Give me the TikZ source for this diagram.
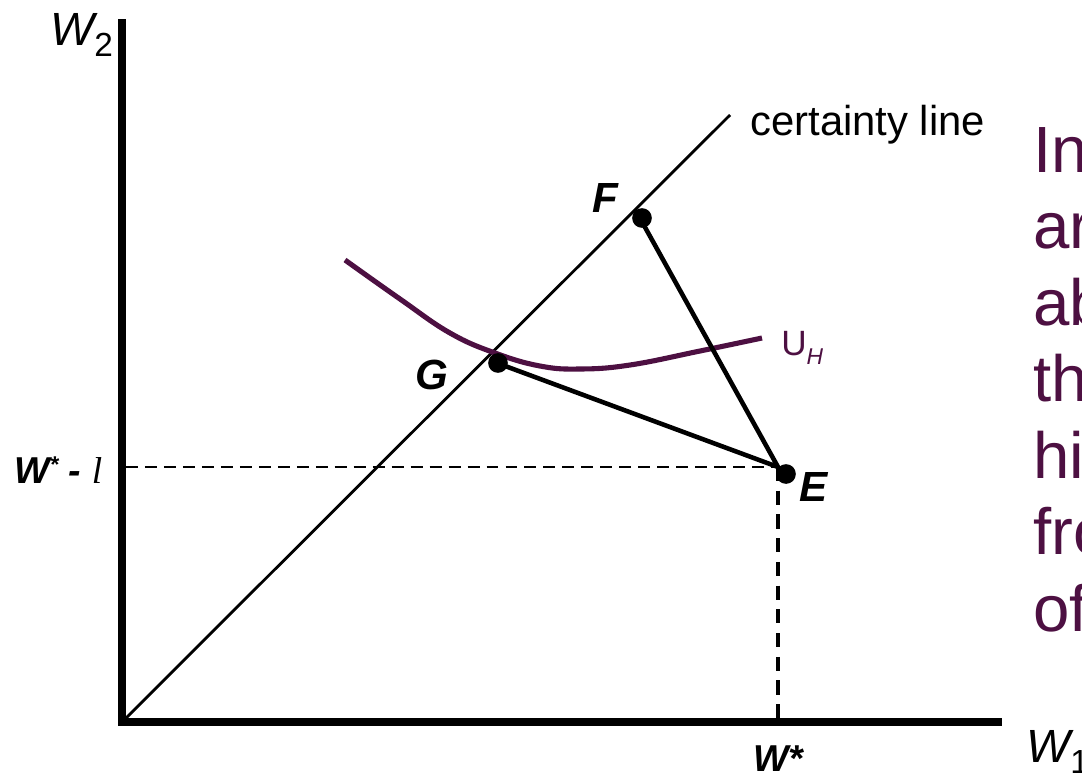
\documentclass[tikz,border=0pt]{standalone}
\usepackage{fontspec}
\setmainfont{Liberation Sans}
\newfontfamily\timesfont{Liberation Serif}
\definecolor{ecpurple}{RGB}{77,16,66}
\usetikzlibrary{positioning}

\begin{document}
\begin{tikzpicture}[x=0.02cm,y=-0.02cm,
  axisline/.style={line width=4.5pt},
  certline/.style={line width=1.6pt},
  budget/.style={line width=2.6pt},
  hguide/.style={line width=1.1pt,dash pattern=on 6.8pt off 4pt},
  vguide/.style={line width=2.2pt,dash pattern=on 8pt off 5.5pt},
  indiff/.style={line width=2.9pt,draw=ecpurple},
  dotpt/.style={circle,fill=black,inner sep=0pt,minimum size=11.2pt},
  axlabel/.style={anchor=base west,inner sep=0pt,font=\fontsize{26.5}{30}\selectfont\itshape},
  ptlabel/.style={inner sep=0pt,font=\fontsize{24}{28}\selectfont\bfseries\itshape},
  wlabel/.style={inner sep=0pt,font=\fontsize{21.3}{25}\selectfont\bfseries\itshape},
  sideline/.style={anchor=base west,inner sep=0pt,text=ecpurple,font=\fontsize{37.2}{43.4}\selectfont}
]
  \clip (0,0) rectangle (1082,775);
  % axes
  \coordinate (O) at (122,722);
  \coordinate (ytop) at (122,19);
  \coordinate (xend) at (1002,722);
  \draw[axisline] (ytop) -- (O) -- (xend);
  \node[axlabel] (w2) at (50,45) {W\raisebox{-6.8pt}{\fontsize{19}{22}\selectfont\upshape 2}};
  \node[axlabel] (w1) at (1026,762) {W\raisebox{-6.8pt}{\fontsize{19}{22}\selectfont\upshape 1}};

  % certainty line
  \coordinate (c0) at (126,718);
  \coordinate (c1) at (730,115);
  \draw[certline] (c0) -- (c1);
  \node[anchor=base west,inner sep=0pt,font=\fontsize{23.8}{28}\selectfont] (certlbl) at (750,135) {certainty line};

  % endowment and guides
  \coordinate (E) at (778,467);
  \coordinate (Ey) at (126,467);
  \coordinate (Ex) at (778,718);
  \draw[hguide] (Ey) -- (E);
  \draw[vguide] (E) -- (Ex);
  \node[wlabel,anchor=base west] (wl) at (14,483) {W\raisebox{6pt}{\fontsize{13}{15}\selectfont *} - {\timesfont\mdseries\itshape l}};
  \node[wlabel,anchor=base] (ws) at (778,771) {W*};

  % indifference curve U_H
  \draw[indiff] plot[smooth,tension=0.7] coordinates {(345,260) (400,299) (450,333) (495,353) (540,366) (580,369) (630,365) (700,351) (762,338)};
  \node[anchor=base west,inner sep=0pt,text=ecpurple,font=\fontsize{20}{24}\selectfont] (uh) at (781,355) {U\raisebox{-5.5pt}{\fontsize{13}{15}\selectfont\itshape H}};

  % points
  \coordinate (F) at (641,220);
  \coordinate (G) at (497,363);
  \draw[budget] (F) -- (E) -- (G);
  \node[dotpt] (Fdot) at (642,218) {};
  \node[dotpt] (Gdot) at (498,363) {};
  \node[dotpt] (Edot) at (786,474) {};
  \node[ptlabel] (Flbl) at (605,198) {F};
  \node[ptlabel] (Glbl) at (432,375) {G};
  \node[ptlabel] (Elbl) at (814,487) {E};

  % clipped side text
  \foreach \txt [count=\i] in {In,ar,ab,th,hi,fro,of}
    \node[sideline] (side\i) at (1033,{172+76.5*(\i-1)}) {\txt};
\end{tikzpicture}
\end{document}
